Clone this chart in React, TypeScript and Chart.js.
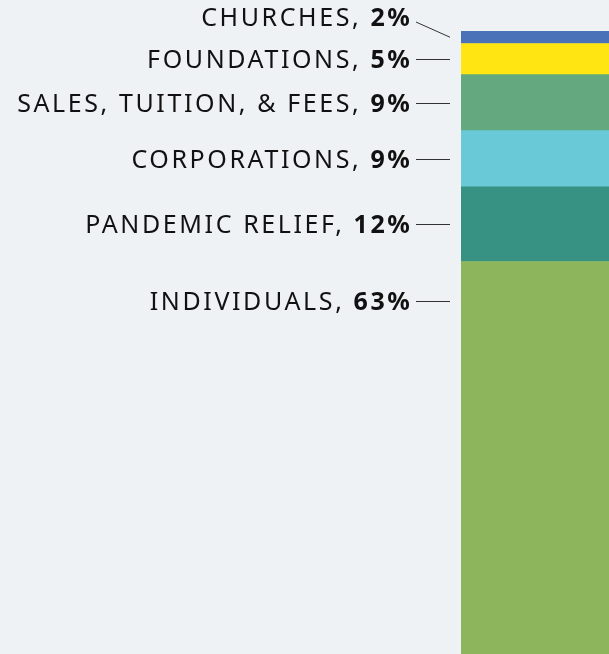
import React, { useEffect, useRef } from "react";
import { Chart, registerables } from "chart.js";

Chart.register(...registerables);

const categories = ["Revenue"];
const sourceNames = ["INDIVIDUALS", "PANDEMIC RELIEF", "CORPORATIONS", "SALES, TUITION, & FEES", "FOUNDATIONS", "CHURCHES"];
const shares = [63, 12, 9, 9, 5, 2];
const segmentColors = ["#8db65c", "#379283", "#6ac9d6", "#64a880", "#ffe512", "#4a72b8"];

const BG = "#eef2f5";
const FONT_FAMILY = "'Noto Sans', sans-serif";
const FONT_SIZE = 25;
const LETTER_SPACING = "2.6px";

const labelPlugin = {
  id: "sideLabels",
  afterDatasetsDraw(chart: any) {
    const ctx = chart.ctx as CanvasRenderingContext2D;
    const area = chart.chartArea;
    const textRight = area.left - 48.5;
    const lineStart = area.left - 45;
    const lineEnd = area.left - 11;
    let prevLabelY = Infinity;
    ctx.save();
    for (let i = 0; i < chart.data.datasets.length; i++) {
      const el = chart.getDatasetMeta(i).data[0] as any;
      const top = Math.min(el.y, el.base);
      const bottom = Math.max(el.y, el.base);
      const center = (top + bottom) / 2;
      const labelY = Math.min(center, top + 39, prevLabelY - 42);
      prevLabelY = labelY;

      // text
      const name = sourceNames[i] + ", ";
      const pct = shares[i] + "%";
      (ctx as any).letterSpacing = LETTER_SPACING;
      ctx.textBaseline = "alphabetic";
      ctx.textAlign = "left";
      ctx.fillStyle = "#111111";
      ctx.font = `700 ${FONT_SIZE}px ${FONT_FAMILY}`;
      const pctW = ctx.measureText(pct).width;
      ctx.font = `400 ${FONT_SIZE}px ${FONT_FAMILY}`;
      const nameW = ctx.measureText(name).width;
      const baseline = labelY + 9;
      ctx.fillText(name, textRight - pctW - nameW, baseline);
      ctx.font = `700 ${FONT_SIZE}px ${FONT_FAMILY}`;
      ctx.fillText(pct, textRight - pctW, baseline);

      // leader line
      ctx.strokeStyle = "#333333";
      ctx.lineWidth = 1;
      ctx.beginPath();
      if (labelY >= top) {
        ctx.moveTo(lineStart, Math.round(labelY) + 0.5);
        ctx.lineTo(lineEnd, Math.round(labelY) + 0.5);
      } else {
        ctx.moveTo(lineStart, labelY + 5);
        ctx.lineTo(lineEnd, center);
      }
      ctx.stroke();
    }
    ctx.restore();
  },
};

const bgPlugin = {
  id: "bgFill",
  beforeDraw(chart: any) {
    const ctx = chart.ctx;
    ctx.save();
    ctx.fillStyle = BG;
    ctx.fillRect(0, 0, chart.width, chart.height);
    ctx.restore();
  },
};

export default function App() {
  const canvasRef = useRef<HTMLCanvasElement | null>(null);

  useEffect(() => {
    document.body.style.margin = "0";
    document.body.style.background = BG;
    const canvas = canvasRef.current;
    if (!canvas) return;
    const chart = new Chart(canvas, {
      type: "bar",
      data: {
        labels: categories,
        datasets: shares.map((v, i) => ({
          label: sourceNames[i],
          data: [v],
          backgroundColor: segmentColors[i],
          borderWidth: 0,
          barPercentage: 1,
          categoryPercentage: 1,
          stack: "s",
        })),
      },
      options: {
        animation: false,
        responsive: true,
        maintainAspectRatio: false,
        layout: { padding: { left: 461, top: 31, right: 0, bottom: 0 } },
        plugins: {
          legend: { display: false },
          tooltip: { enabled: false },
          title: { display: false },
        },
        scales: {
          x: { display: false, stacked: true },
          y: { display: false, stacked: true, min: 0, max: 100 },
        },
      },
      plugins: [bgPlugin, labelPlugin],
    });
    return () => chart.destroy();
  }, []);

  return (
    <div style={{ width: 609, height: 654, position: "relative", background: BG }}>
      <canvas ref={canvasRef} />
    </div>
  );
}
